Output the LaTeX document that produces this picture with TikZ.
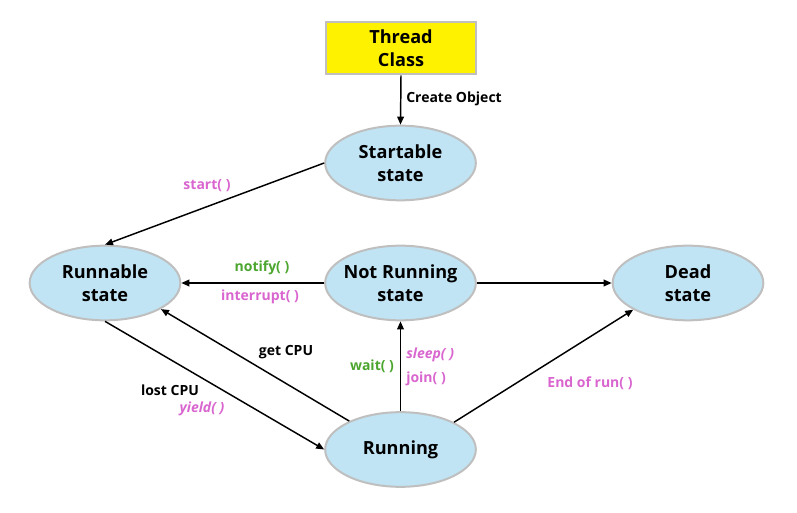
\documentclass[tikz,border=0pt]{standalone}
\usepackage{fontspec}
\setmainfont{Open Sans}
\usetikzlibrary{arrows.meta,shapes.geometric}
\definecolor{stfill}{HTML}{C0E4F4}
\definecolor{stline}{HTML}{BFBFBF}
\definecolor{lpink}{HTML}{D966CF}
\definecolor{lgreen}{HTML}{4BA52E}
\begin{document}
\begin{tikzpicture}[x=0.75pt,y=-0.75pt,
  state/.style={ellipse,draw=stline,line width=1.5pt,fill=stfill,minimum width=113pt,minimum height=56pt,inner sep=-8pt,align=center,font=\fontsize{13.6}{17}\selectfont\bfseries},
  clsbox/.style={rectangle,draw=stline,line width=1.5pt,fill=yellow,minimum width=113pt,minimum height=39pt,inner sep=0pt,align=center,font=\fontsize{13.6}{17}\selectfont\bfseries},
  arr/.style={-{Triangle[length=6pt,width=5pt]},line width=1.1pt,black},
  lbl/.style={font=\fontsize{10.5}{12}\selectfont\bfseries,inner sep=0pt},
  pk/.style={lbl,text=lpink},
  gr/.style={lbl,text=lgreen}]
\useasboundingbox (0,0) rectangle (797,513);
\node[clsbox] (cls) at (401,48.5) {Thread\\Class};
\node[state] (start) at (400.5,163) {Startable\\state};
\node[state] (runnable) at (105,283) {Runnable\\state};
\node[state] (notrun) at (400.5,283) {Not Running\\state};
\node[state] (dead) at (688,283) {Dead\\state};
\node[state] (running) at (400.5,449.5) {Running};
\draw[arr] (cls.south) -- (start.north);
\draw[arr] (start.west) -- (runnable.north);
\draw[arr] (notrun.west) -- (runnable.east);
\draw[arr] (notrun.east) -- (dead.west);
\draw[arr] (runnable.south) -- (running.west);
\draw[arr] (running.151) -- (runnable.-25);
\draw[arr] (running.north) -- (notrun.south);
\draw[arr] (running.27) -- (dead.-154);
\node[lbl,anchor=west] (co) at (406,99) {Create Object};
\node[pk] (l1) at (207,186) {start( )};
\node[gr] (l2) at (262,268) {notify( )};
\node[pk] (l3) at (260,297) {interrupt( )};
\node[lbl] (l4) at (286,352) {get CPU};
\node[lbl] (l5) at (170,390) {lost CPU};
\node[pk] (l6) at (202,409) {\itshape yield( )};
\node[gr] (l7) at (372,366) {wait( )};
\node[pk,anchor=west] (l8) at (406,355) {\itshape sleep( )};
\node[pk,anchor=west] (l9) at (406,379) {join( )};
\node[pk] (l10) at (590,383) {End of run( )};
\end{tikzpicture}
\end{document}
